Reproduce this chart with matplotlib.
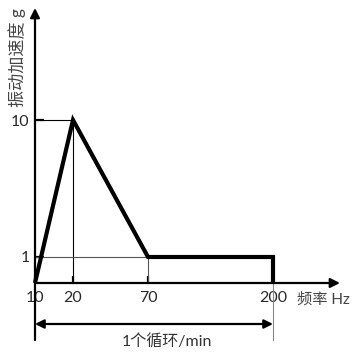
import numpy as np
import matplotlib
matplotlib.use('Agg')
import matplotlib.pyplot as plt

plt.rcParams['font.family'] = ['Lato', 'Noto Sans CJK SC', 'DejaVu Sans']

# vibration profile: frequency (Hz) vs acceleration (g)
freq = [10, 20, 70, 200, 200]
accel = [0, 10, 1, 1, 0]
xtick_vals = [10, 20, 70, 200]
ytick_vals = [1, 10]

# schematic (non-uniform) axes: anchor values -> figure pixel positions
fx_vals = [0, 10, 20, 70, 200, 289]
fx_pix = [-3, 35, 73, 148, 273, 362]
gy_vals = [-5, 0, 1, 10, 20]
gy_pix = [0, 71, 97, 234, 354]


def fwd_x(v):
    return np.interp(v, fx_vals, fx_pix)


def inv_x(p):
    return np.interp(p, fx_pix, fx_vals)


def fwd_y(v):
    return np.interp(v, gy_vals, gy_pix)


def inv_y(p):
    return np.interp(p, gy_pix, gy_vals)


fig = plt.figure(figsize=(3.62, 3.54), dpi=100)
ax = fig.add_axes([0, 0, 1, 1])
ax.set_xscale('function', functions=(fwd_x, inv_x))
ax.set_yscale('function', functions=(fwd_y, inv_y))
ax.set_xlim(inv_x(0), inv_x(362))
ax.set_ylim(-5, 20)
for s in ax.spines.values():
    s.set_visible(False)
ax.spines['bottom'].set_position(('data', 0))
ax.spines['left'].set_position(('data', 10))

ax.set_xticks(xtick_vals)
ax.set_xticklabels([str(v) for v in xtick_vals])
ax.set_yticks(ytick_vals)
ax.set_yticklabels([str(v) for v in ytick_vals])
ax.tick_params(axis='x', direction='in', length=5, width=1.6, pad=6, labelsize=11.5, labelcolor='#2a2a2a')
ax.tick_params(axis='y', direction='in', length=6.5, width=1.6, pad=4, labelsize=11.5, labelcolor='#2a2a2a')
ax.minorticks_off()

# axis lines with arrow heads
ax.annotate('', xy=(inv_x(340), 0), xytext=(10, 0),
            arrowprops=dict(arrowstyle='-|>', lw=1.6, color='k', mutation_scale=14, shrinkA=0, shrinkB=0))
ax.annotate('', xy=(10, inv_y(346)), xytext=(10, inv_y(14)),
            arrowprops=dict(arrowstyle='-|>', lw=1.6, color='k', mutation_scale=14, shrinkA=0, shrinkB=0))

# thin guide lines
ax.plot([10, 20], [10, 10], color='k', lw=0.8)
ax.plot([20, 20], [0, 10], color='k', lw=0.8)
ax.plot([10, 70], [1, 1], color='#555555', lw=0.8)
ax.plot([70, 70], [0, 1], color='#555555', lw=0.8)
ax.plot([200, 200], [inv_y(14), 0], color='#888888', lw=0.8)

# profile
ax.plot(freq, accel, color='k', lw=3, solid_joinstyle='miter', solid_capstyle='butt')

# cycle dimension arrow
dim_y = inv_y(30)
ax.annotate('', xy=(200, dim_y), xytext=(10, dim_y),
            arrowprops=dict(arrowstyle='<|-|>', lw=1.6, color='k', mutation_scale=13, shrinkA=0, shrinkB=0))
ax.text(inv_x(167), inv_y(13), '1个循环/min', ha='center', va='center', fontsize=11.5, color='#333333')

ax.text(inv_x(297), inv_y(54), '频率 Hz', ha='left', va='center', fontsize=11, color='#444444')
ax.text(17 / 362, 1 - 58 / 354, '振动加速度 g', rotation=90, ha='center', va='center',
        fontsize=12.3, color='#444444', transform=ax.transAxes)

fig.savefig('out.png', dpi=100)
